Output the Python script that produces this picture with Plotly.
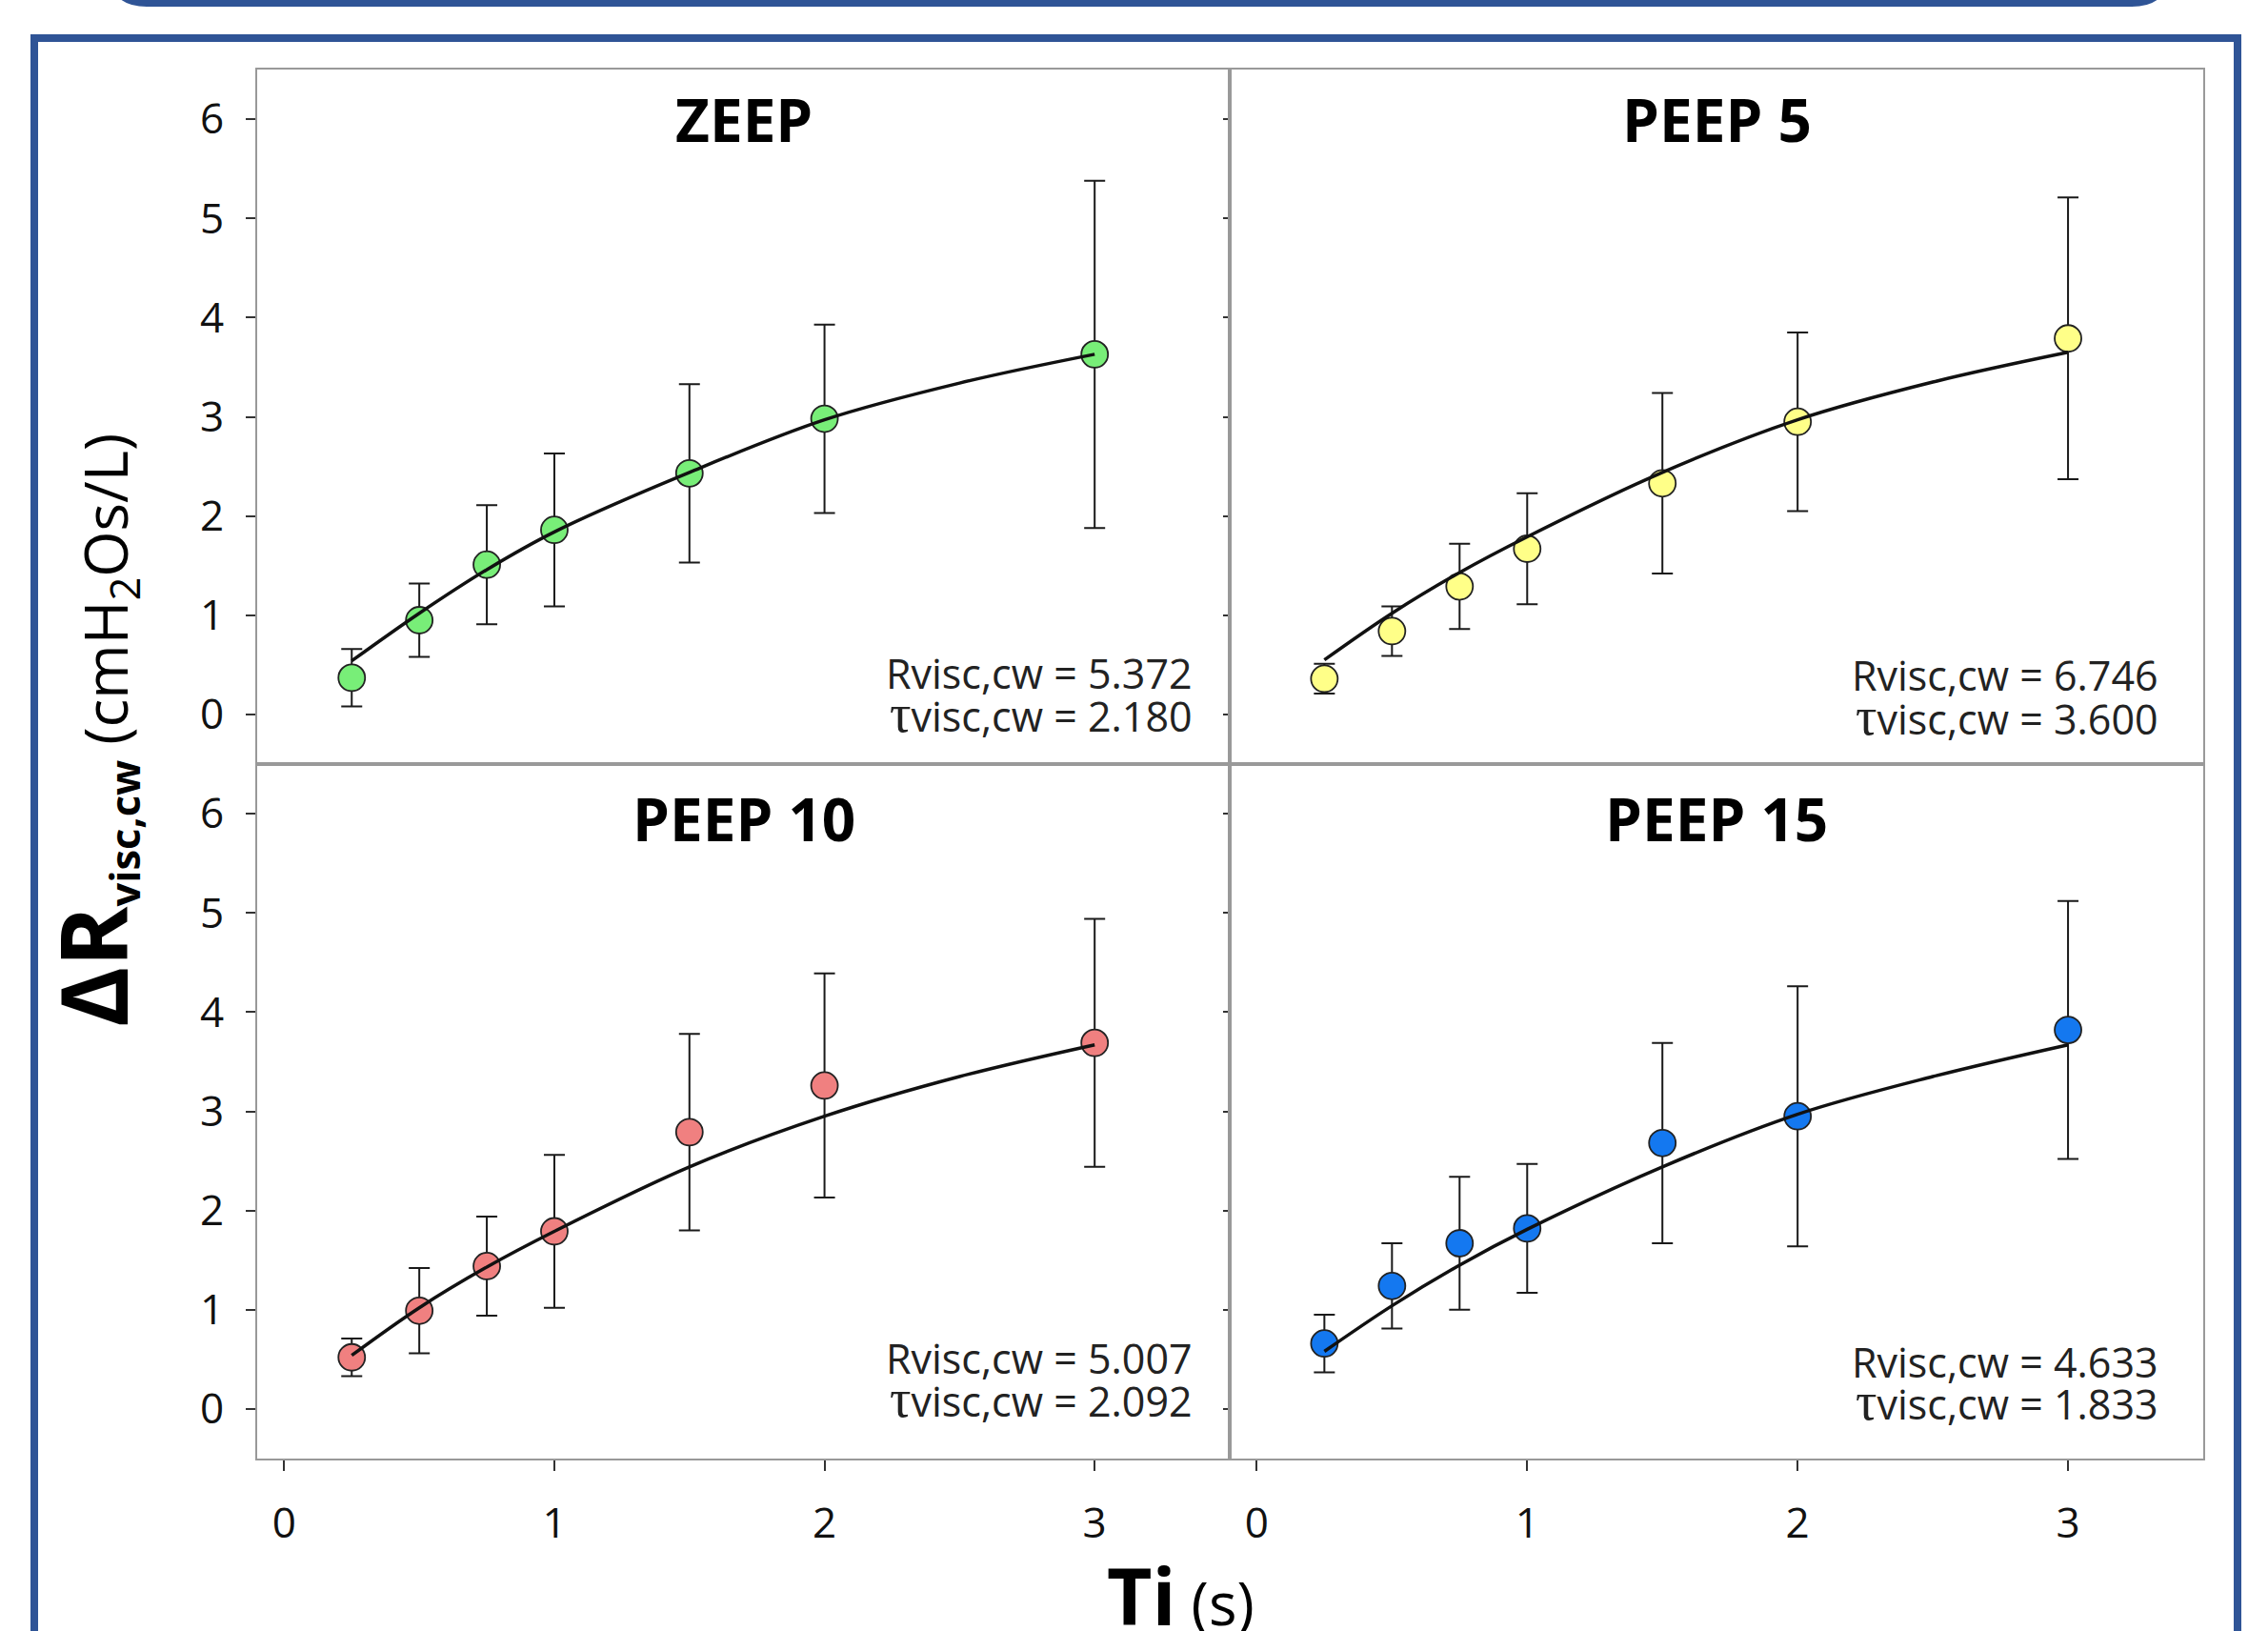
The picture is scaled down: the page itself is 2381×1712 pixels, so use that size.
import plotly.graph_objects as go
from plotly.subplots import make_subplots

W, H = 2381, 1712

# ---------------- data ----------------
Ti = [0.25, 0.5, 0.75, 1.0, 1.5, 2.0, 3.0]
Ti_fit = [0.25, 0.5, 0.75, 1.0, 1.5, 2.0, 2.5, 3.0]

panel_names = ["ZEEP", "PEEP 5", "PEEP 10", "PEEP 15"]
panel_colors = ["#78EE78", "#FFFF88", "#F08080", "#1478F0"]

zeep_mean = [0.37, 0.95, 1.51, 1.86, 2.43, 2.98, 3.63]
zeep_sd = [0.29, 0.37, 0.60, 0.77, 0.90, 0.95, 1.75]
zeep_fit = [0.54, 1.02, 1.46, 1.84, 2.44, 2.97, 3.34, 3.63]

peep5_mean = [0.36, 0.84, 1.29, 1.67, 2.33, 2.95, 3.79]
peep5_sd = [0.15, 0.25, 0.43, 0.56, 0.91, 0.90, 1.42]
peep5_fit = [0.55, 1.02, 1.43, 1.79, 2.44, 2.97, 3.35, 3.65]

peep10_mean = [0.52, 0.99, 1.44, 1.79, 2.79, 3.26, 3.69]
peep10_sd = [0.19, 0.43, 0.50, 0.77, 0.99, 1.13, 1.25]
peep10_fit = [0.54, 1.02, 1.43, 1.79, 2.44, 2.95, 3.35, 3.67]

peep15_mean = [0.66, 1.24, 1.67, 1.82, 2.68, 2.95, 3.82]
peep15_sd = [0.29, 0.43, 0.67, 0.65, 1.01, 1.31, 1.30]
peep15_fit = [0.58, 1.04, 1.45, 1.81, 2.44, 2.97, 3.35, 3.67]

rvisc_labels = ["5.372", "6.746", "5.007", "4.633"]
tau_labels = ["2.180", "3.600", "2.092", "1.833"]

x_ticks = [0, 1, 2, 3]
y_ticks = [0, 1, 2, 3, 4, 5, 6]

means = [zeep_mean, peep5_mean, peep10_mean, peep15_mean]
sds = [zeep_sd, peep5_sd, peep10_sd, peep15_sd]
fits = [zeep_fit, peep5_fit, peep10_fit, peep15_fit]

# ---------------- layout helpers ----------------
FONT = "Open Sans"
def px_x(p):
    return p / W
def px_y(p):
    return 1 - p / H

X_L, X_M, X_R = 270, 1291, 2313
Y_T, Y_M, Y_B = 73, 802, 1531

fig = make_subplots(rows=2, cols=2, horizontal_spacing=0, vertical_spacing=0)

positions = [(1, 1), (1, 2), (2, 1), (2, 2)]
for i, (r, c) in enumerate(positions):
    fig.add_trace(go.Scatter(
        x=Ti, y=means[i], mode="markers",
        marker=dict(size=28, color=panel_colors[i], line=dict(width=1.8, color="#222")),
        error_y=dict(type="data", array=sds[i], visible=True, color="#1a1a1a",
                     thickness=2, width=11),
        showlegend=False, hoverinfo="skip"), row=r, col=c)
    fig.add_trace(go.Scatter(
        x=Ti_fit, y=fits[i], mode="lines",
        line=dict(color="#111", width=3.5, shape="spline", smoothing=1.0),
        showlegend=False, hoverinfo="skip"), row=r, col=c)

axis_common = dict(showgrid=False, zeroline=False, showline=True, mirror=True,
                   linecolor="#999999", linewidth=2)

xdoms = {1: [px_x(X_L), px_x(X_M)], 2: [px_x(X_M), px_x(X_R)]}
ydoms = {1: [px_y(Y_M), px_y(Y_T)], 2: [px_y(Y_B), px_y(Y_M)]}

for i, (r, c) in enumerate(positions):
    xa = "xaxis" if i == 0 else f"xaxis{i+1}"
    ya = "yaxis" if i == 0 else f"yaxis{i+1}"
    bottom = (r == 2)
    left = (c == 1)
    fig.layout[xa].update(domain=xdoms[c], range=[-0.1, 3.5], tickvals=x_ticks,
                          ticks="outside" if bottom else "", ticklen=11, tickwidth=2,
                          tickcolor="#333", showticklabels=bottom,
                          tickfont=dict(family=FONT, size=44, color="#111"),
                          ticklabelstandoff=17, **axis_common)
    fig.layout[ya].update(domain=ydoms[r], range=[-0.5, 6.5], tickvals=y_ticks,
                          ticks="outside", ticklen=10 if left else 5, tickwidth=2,
                          tickcolor="#333", showticklabels=left,
                          tickfont=dict(family=FONT, size=44, color="#111"),
                          ticklabelstandoff=14, **axis_common)

TAU = "<span style='font-family:Liberation Serif;font-size:56px'>τ</span>"
annotations = []
title_y = [6.0, 6.0, 5.95, 5.95]
txt_x = [3.37, 3.34, 3.37, 3.34]
line1_y = [0.42, 0.40, 0.51, 0.47]
line2_y = [0.00, -0.02, 0.10, 0.07]
for i in range(4):
    xr = "x" if i == 0 else f"x{i+1}"
    yr = "y" if i == 0 else f"y{i+1}"
    annotations.append(dict(xref=xr, yref=yr, x=1.7, y=title_y[i],
                            text=f"<b>{panel_names[i]}</b>", showarrow=False,
                            font=dict(family=FONT, size=62, color="#000"),
                            xanchor="center", yanchor="middle"))
    annotations.append(dict(xref=xr, yref=yr, x=txt_x[i], y=line1_y[i],
                            text=f"Rvisc,cw = {rvisc_labels[i]}", showarrow=False,
                            font=dict(family=FONT, size=43, color="#222"),
                            xanchor="right", yanchor="middle"))
    annotations.append(dict(xref=xr, yref=yr, x=txt_x[i], y=line2_y[i],
                            text=f"{TAU}visc,cw = {tau_labels[i]}", showarrow=False,
                            font=dict(family=FONT, size=43, color="#222"),
                            xanchor="right", yanchor="middle"))

# y axis title
annotations.append(dict(
    xref="paper", yref="paper", x=px_x(96), y=px_y(767),
    text="<b><span style='font-size:96px'>ΔR</span><sub>visc,cw</sub></b> (cmH<sub>2</sub>Os/L)",
    textangle=-90, showarrow=False, xanchor="center", yanchor="middle",
    font=dict(family=FONT, size=62, color="#000")))
# x axis title
annotations.append(dict(
    xref="paper", yref="paper", x=px_x(1240), y=px_y(1674),
    text="<b><span style='font-size:82px'>Ti</span></b> (s)",
    showarrow=False, xanchor="center", yanchor="middle",
    font=dict(family=FONT, size=62, color="#000")))

BLUE = "#2F5496"
shapes = [
    dict(type="rect", xref="paper", yref="paper",
         x0=px_x(36), x1=px_x(2349), y0=px_y(40), y1=-0.2,
         line=dict(color=BLUE, width=8), fillcolor="rgba(0,0,0,0)", layer="above"),
    dict(type="path", xref="paper", yref="paper",
         path=(f"M {px_x(114)},{px_y(-60)} L {px_x(114)},{px_y(-33)} "
               f"Q {px_x(114)},{px_y(7)} {px_x(154)},{px_y(7)} "
               f"L {px_x(2238)},{px_y(7)} Q {px_x(2278)},{px_y(7)} {px_x(2278)},{px_y(-33)} "
               f"L {px_x(2278)},{px_y(-60)} Z"),
         line=dict(color=BLUE, width=0), fillcolor=BLUE),
]

fig.update_layout(width=W, height=H, margin=dict(l=0, r=0, t=0, b=0),
                  paper_bgcolor="white", plot_bgcolor="white",
                  annotations=annotations, shapes=shapes,
                  font=dict(family=FONT))

fig.write_html("out.html", config={"displayModeBar": False},
               post_script="document.body.style.margin='0px';document.body.style.overflow='hidden';")
